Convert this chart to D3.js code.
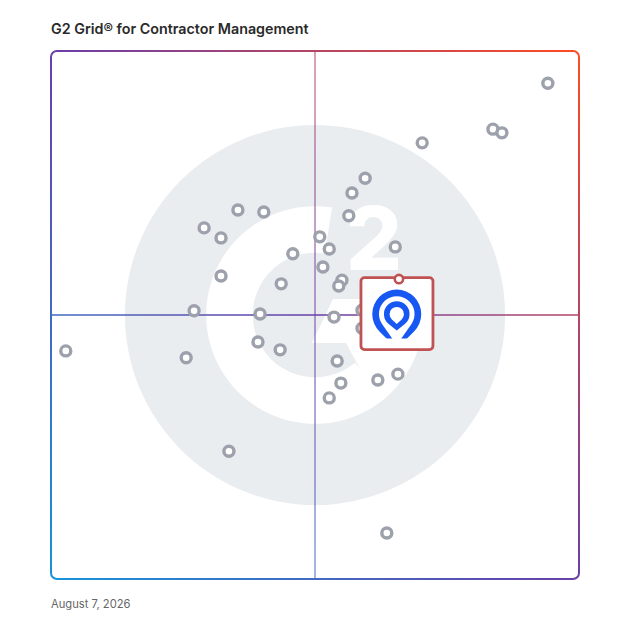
<!DOCTYPE html>
<html>
<head>
<meta charset="utf-8">
<script src="https://cdn.jsdelivr.net/npm/d3@7"></script>
<style>
  body { margin: 0; background: #fff; }
  svg { display: block; }
</style>
</head>
<body>
<div id="chart"></div>
<script>
// Valores (0-100 en ambos ejes)
const presence = [94.1, 83.7, 85.4, 70.3, 59.5, 57.0, 35.4, 40.3, 56.4, 29.0, 32.2, 50.9,
  52.7, 65.2, 45.8, 51.5, 55.1, 54.5, 32.2, 43.6, 27.1, 39.6, 53.6, 58.9, 58.9, 39.2,
  43.4, 25.6, 54.2, 61.9, 65.7, 54.9, 52.7, 33.7, 2.8, 63.6];
const satisfaction = [93.9, 85.2, 84.5, 82.6, 75.9, 73.1, 69.9, 69.5, 68.8, 66.5, 64.6, 64.8,
  62.5, 62.9, 61.6, 59.1, 56.6, 55.5, 57.4, 55.9, 50.8, 50.2, 49.6, 50.9, 47.5, 44.9,
  43.4, 41.9, 41.3, 37.7, 38.8, 37.1, 34.3, 24.2, 43.2, 8.7];
const highlight = { presence: 65.9, satisfaction: 56.8 };
const title = "G2 Grid® for Contractor Management";
const dateLabel = "August 7, 2026";

const W = 628, H = 628;
const margin = { top: 51, right: 49, bottom: 49, left: 51 };

const svg = d3.select("#chart").append("svg").attr("width", W).attr("height", H);

const xScale = d3.scaleLinear().domain([0, 100]).range([margin.left, W - margin.right]);
const yScale = d3.scaleLinear().domain([0, 100]).range([H - margin.bottom, margin.top]);

const defs = svg.append("defs");
// Degradado diagonal: azul abajo-izq, morado en el centro, naranja arriba-der
const grad = defs.append("linearGradient").attr("id", "frame")
  .attr("gradientUnits", "userSpaceOnUse")
  .attr("x1", xScale(0)).attr("y1", yScale(0))
  .attr("x2", xScale(100)).attr("y2", yScale(100));
grad.append("stop").attr("offset", "0%").attr("stop-color", "#1794da");
grad.append("stop").attr("offset", "50%").attr("stop-color", "#6a3fa8");
grad.append("stop").attr("offset", "100%").attr("stop-color", "#ff4b22");

const cx = xScale(50), cy = yScale(50);

// Logo G2 de fondo
const bg = svg.append("g");
const rOuter = xScale(86) - xScale(50);
bg.append("circle").attr("cx", cx).attr("cy", cy).attr("r", rOuter).attr("fill", "#eaedf0");

const gR1 = xScale(50 + 20.6) - cx, gR2 = xScale(50 + 11.8) - cx;
defs.append("clipPath").attr("id", "gclip")
  .append("circle").attr("cx", cx).attr("cy", cy).attr("r", gR1);
const logo = bg.append("g").attr("fill", "#fff");
logo.append("path")
  .attr("transform", `translate(${cx},${cy})`)
  .attr("d", d3.arc()({ innerRadius: gR2, outerRadius: gR1,
    startAngle: 140 * Math.PI / 180, endAngle: 369 * Math.PI / 180 }));
const gx = v => cx + v, gy = v => cy + v;
logo.append("polygon")
  .attr("clip-path", "url(#gclip)")
  .attr("points", [[18, -16], [125, -16], [125, 15], [78, 77], [65, 91], [31, 28], [-3, 28]]
    .map(p => [gx(p[0]), gy(p[1])].join(",")).join(" "));
logo.append("text")
  .attr("x", cx + 31).attr("y", cy - 45)
  .attr("font-family", "Inter, sans-serif").attr("font-weight", 800)
  .attr("font-size", 88).text("2");

// Lineas centrales
svg.append("line")
  .attr("x1", cx).attr("x2", cx).attr("y1", yScale(100)).attr("y2", yScale(0))
  .attr("stroke", "url(#frame)").attr("stroke-width", 1.4).attr("opacity", 0.7);
svg.append("line")
  .attr("x1", xScale(0)).attr("x2", xScale(100)).attr("y1", cy).attr("y2", cy)
  .attr("stroke", "url(#frame)").attr("stroke-width", 1.5).attr("opacity", 1);

// Marco
svg.append("rect")
  .attr("x", xScale(0)).attr("y", yScale(100))
  .attr("width", xScale(100) - xScale(0)).attr("height", yScale(0) - yScale(100))
  .attr("rx", 6).attr("fill", "none")
  .attr("stroke", "url(#frame)").attr("stroke-width", 2);

// Puntos de productos
const points = presence.map((p, i) => ({ p, s: satisfaction[i] }));
svg.append("g").selectAll("circle").data(points).join("circle")
  .attr("cx", d => xScale(d.p)).attr("cy", d => yScale(d.s))
  .attr("r", 5).attr("fill", "#fff")
  .attr("stroke", "#9ca1ab").attr("stroke-width", 3.4);

// Producto destacado
const hx = xScale(highlight.presence), hy = yScale(highlight.satisfaction);
const card = svg.append("g");
card.append("rect")
  .attr("x", hx - 38).attr("y", hy - 1.5).attr("width", 72).attr("height", 72)
  .attr("rx", 3.5).attr("fill", "#fff")
  .attr("stroke", "#bf5353").attr("stroke-width", 2.8);
card.append("circle").attr("cx", hx).attr("cy", hy).attr("r", 4.2)
  .attr("fill", "#fff").attr("stroke", "#bf5353").attr("stroke-width", 2.6);

// Icono tipo pin (gota con punta hacia abajo)
function pin(r, d) {
  const c = r / d, s = Math.sqrt(1 - c * c);
  const tx = r * s, ty = r * c;
  return `M0,${d}L${tx},${ty}A${r},${r} 0 1 0 ${-tx},${ty}Z`;
}
defs.append("clipPath").attr("id", "pinclip")
  .append("rect").attr("x", -30).attr("y", -30).attr("width", 60).attr("height", 54.5);
const icon = card.append("g").attr("transform", `translate(${hx - 2.2},${hy + 35})`);
icon.append("path").attr("d", pin(24.5, 34.6)).attr("fill", "#1757f2")
  .attr("clip-path", "url(#pinclip)");
icon.append("path").attr("d", pin(17.8, 31)).attr("fill", "#fff");
icon.append("path").attr("d", pin(12.8, 16.5)).attr("fill", "#1757f2");
icon.append("path").attr("d", pin(7.2, 9.8)).attr("fill", "#fff");

// Textos
svg.append("text").attr("x", 51).attr("y", 34)
  .attr("font-family", "Inter, sans-serif").attr("font-weight", 600)
  .attr("font-size", 14.3).attr("fill", "#2a2a2a").text(title);
svg.append("text").attr("x", 51).attr("y", 608)
  .attr("font-family", "Inter, sans-serif")
  .attr("font-size", 11.2).attr("fill", "#666").text(dateLabel);
</script>
</body>
</html>
